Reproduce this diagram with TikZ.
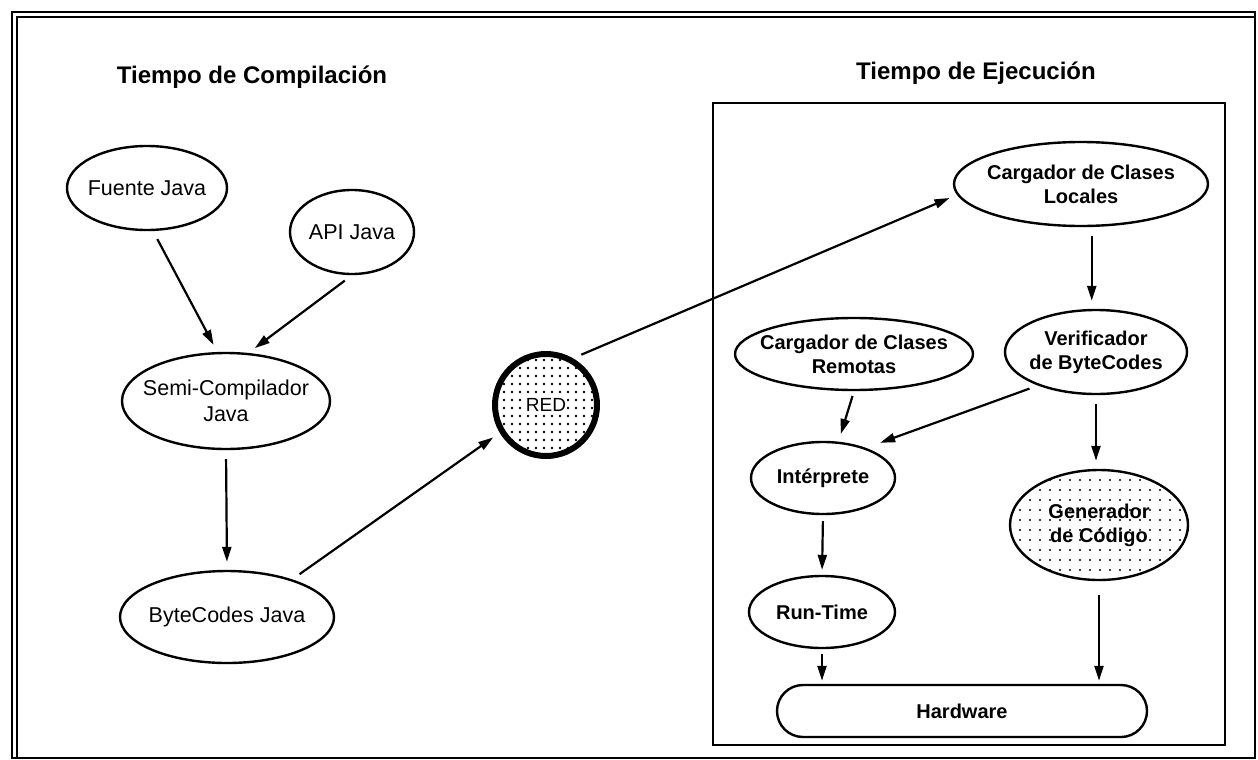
\documentclass[tikz,border=0pt]{standalone}
\usepackage{fontspec}
\setmainfont{Liberation Sans}
\usetikzlibrary{shapes.geometric,arrows.meta,patterns.meta}
\begin{document}
\begin{tikzpicture}[x=1pt,y=-1pt,
  ell/.style={ellipse,draw,line width=2.4pt,inner sep=0pt},
  lbl/.style={align=center,font=\fontsize{21.5}{26}\selectfont},
  rlbl/.style={align=center,font=\fontsize{20}{24}\selectfont\bfseries},
  arr/.style={line width=2.2pt,-{Triangle[length=15pt,width=9pt]},shorten <=9pt,shorten >=8pt},
  ttl/.style={font=\fontsize{24}{28}\selectfont\bfseries},
  dotsa/.style={pattern={Dots[distance=8pt,radius=1.3pt]}},
  dotsb/.style={pattern={Dots[distance=10pt,radius=1.1pt]}}
]
\useasboundingbox (0,0) rectangle (1258,760);
% outer frame
\draw[line width=2.5pt] (12,12) rectangle (1255,758);
\draw[line width=1.2pt] (17,758) -- (17,17) -- (1255,17);
% titles
\node[ttl] (t1) at (252,77) {Tiempo de Compilación};
\node[ttl] (t2) at (976,73) {Tiempo de Ejecución};
% execution frame
\node[draw,line width=2.5pt,minimum width=512pt,minimum height=642pt,inner sep=0pt] (exec) at (969,424) {};
% left nodes
\node[ell,minimum width=160pt,minimum height=84pt,label={[lbl]center:Fuente Java}] (fuente) at (147,188) {};
\node[ell,minimum width=124pt,minimum height=84pt,label={[lbl]center:API Java}] (api) at (352,232) {};
\node[ell,minimum width=208pt,minimum height=96pt,label={[lbl]center:Semi-Compilador\\Java}] (semi) at (226,401) {};
\node[ell,minimum width=214pt,minimum height=92pt,label={[lbl]center:ByteCodes Java}] (bc) at (227,617) {};
\node[circle,draw,line width=6pt,minimum size=102pt,inner sep=0pt,dotsa,
  label={[font=\fontsize{19}{20}\selectfont,fill=white,inner sep=1pt]center:RED}] (red) at (546,405) {};
% right nodes
\node[ell,minimum width=254pt,minimum height=84pt,label={[rlbl]center:Cargador de Clases\\Locales}] (loc) at (1081,184) {};
\node[ell,minimum width=238pt,minimum height=72pt,label={[rlbl]center:Cargador de Clases\\Remotas}] (rem) at (854,354) {};
\node[ell,minimum width=182pt,minimum height=84pt,label={[rlbl]center:Verificador\\de ByteCodes}] (ver) at (1096,352) {};
\node[ell,minimum width=144pt,minimum height=72pt,label={[rlbl]center:Intérprete}] (int) at (823,478) {};
\node[ell,dotsb,minimum width=178pt,minimum height=110pt,label={[rlbl]center:Generador\\de Código}] (gen) at (1099,525) {};
\node[ell,minimum width=146pt,minimum height=72pt,label={[rlbl]center:Run-Time}] (rt) at (822,612) {};
\node[draw,line width=2.4pt,rounded corners=26pt,minimum width=370pt,minimum height=52pt,inner sep=0pt,rlbl] (hw) at (962,711) {Hardware};
% connectors
\draw[arr] (fuente.-82) -- (semi.100);
\draw[arr] (api.south) -- (semi.65);
\draw[arr] (semi.south) -- (bc.north);
\draw[arr] (bc.30) -- (red.211);
\draw[arr] (red.60) -- (loc.185);
\draw[arr] (loc.-76) -- (loc.-76 |- ver.north);
\draw[arr,shorten <=5pt] (rem.south) -- (int.67);
\draw[arr,shorten >=15pt] (ver.210) -- (int.35);
\draw[arr] (ver.south) -- (ver.south |- gen.north);
\draw[arr,shorten <=6pt,shorten >=5pt] (int.south) -- (rt.north);
\draw[arr,shorten <=5pt,shorten >=3pt] (rt.south) -- (rt.south |- hw.north);
\draw[arr,shorten <=14pt,shorten >=3pt] (gen.south) -- (gen.south |- hw.north);
\end{tikzpicture}
\end{document}
